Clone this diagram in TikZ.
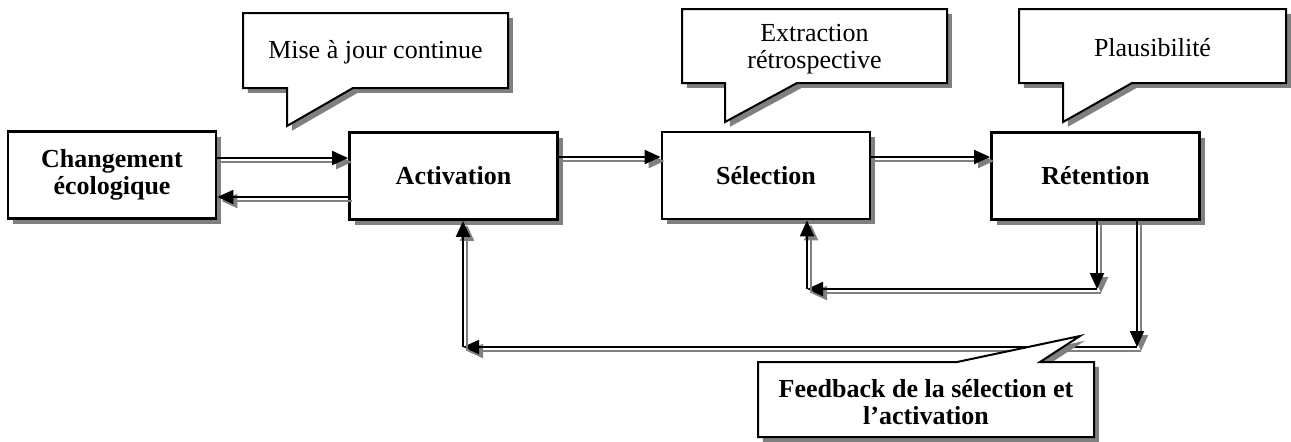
\documentclass[tikz,border=0pt]{standalone}
\usepackage{fontspec}
\setmainfont{Liberation Serif}
\usetikzlibrary{shadows,arrows.meta,calc}
\tikzset{
 boxnode/.style={draw=black, line width=1.4pt, fill=white, minimum width=104pt, minimum height=43.5pt, align=center, inner sep=1pt, font=\fontsize{13}{13.5}\selectfont\bfseries, drop shadow={shadow xshift=2.6pt, shadow yshift=-2.6pt, fill=black!50, opacity=1}},
 callout/.style={draw=black, line width=1pt, fill=white, line join=miter, drop shadow={shadow xshift=2.4pt, shadow yshift=-2.4pt, fill=black!50, opacity=1}},
 ctext/.style={align=center, font=\fontsize{13}{13.5}\selectfont},
 ctextb/.style={align=center, font=\fontsize{13}{13.5}\selectfont\bfseries},
 conn/.style={draw=black, line width=1pt, -{Triangle[length=8pt,width=7pt]}},
 connsh/.style={draw=black!50, line width=1.1pt, -{Triangle[length=8pt,width=7pt]}, transform canvas={shift={(2pt,-2pt)}}},
}
\newcommand\arr[2]{\draw[connsh] #1 -- #2; \draw[conn] #1 -- #2;}
\begin{document}
\begin{tikzpicture}[x=0.5pt,y=-0.5pt]
\useasboundingbox (0,0) rectangle (1291,441);
% boxes
\node[boxnode] (chg) at (112,175) {Changement\\écologique};
\node[boxnode] (act) at (453.5,176) {Activation};
\node[boxnode] (sel) at (766,175.5) {Sélection};
\node[boxnode] (ret) at (1095.5,176) {Rétention};
% corner points
\coordinate (c1) at (1097,289);
\coordinate (c2) at (807,289);
\coordinate (c3) at (1137,347);
\coordinate (c4) at (463,347);
% connectors
\arr{(chg.east |- 0,158)}{(act.west |- 0,158)}
\arr{(act.west |- 0,197)}{(chg.east |- 0,197)}
\arr{(act.east |- 0,157)}{(sel.west |- 0,157)}
\arr{(sel.east |- 0,157)}{(ret.west |- 0,157)}
\arr{(c1 |- ret.south)}{(c1)}
\arr{(c1)}{(c2)}
\arr{(c2)}{(c2 |- sel.south)}
\arr{(c3 |- ret.south)}{(c3)}
\arr{(c3)}{(c4)}
\arr{(c4)}{(c4 |- act.south)}
% callouts
\path[callout] (243,13) -- (508,13) -- (508,88) -- (353,88) -- (287,126) -- (287,88) -- (243,88) -- cycle;
\node[ctext] (t1) at (375.5,52) {Mise à jour continue};
\path[callout] (682,9) -- (947,9) -- (947,83) -- (797,83) -- (725,122) -- (725,83) -- (682,83) -- cycle;
\node[ctext] (t2) at (814.5,49) {Extraction\\rétrospective};
\path[callout] (1019,9) -- (1286,9) -- (1286,83) -- (1132,83) -- (1063,122) -- (1063,83) -- (1019,83) -- cycle;
\node[ctext] (t3) at (1152.5,48) {Plausibilité};
\path[callout] (758,362) -- (957,362) -- (1080,336) -- (1040,362) -- (1094,362) -- (1094,437) -- (758,437) -- cycle;
\node[ctextb] (t4) at (926,402) {Feedback de la sélection et\\l’activation};
\end{tikzpicture}
\end{document}
